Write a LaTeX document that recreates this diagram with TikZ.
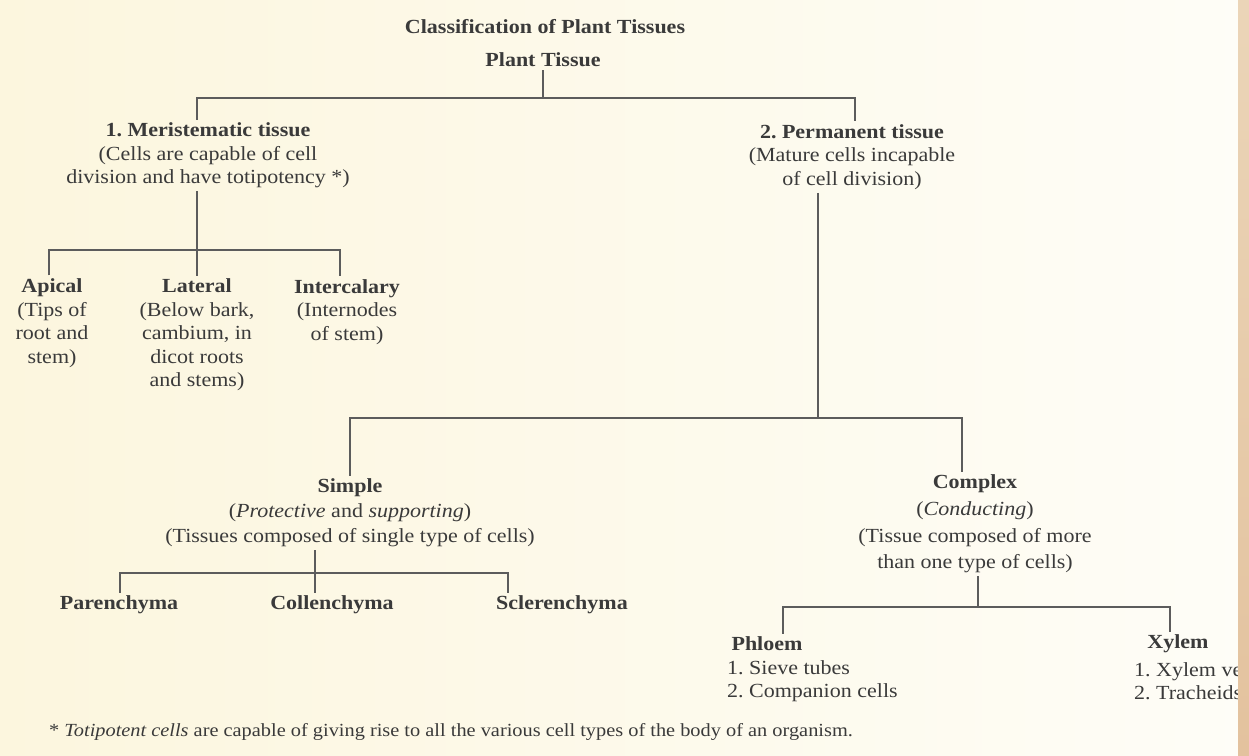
\documentclass[tikz,border=0pt]{standalone}
\usepackage{fontspec}
\setmainfont{Liberation Serif}[FakeStretch=1.1]
\frenchspacing
\definecolor{ink}{HTML}{3A3A3A}
\definecolor{linec}{HTML}{5C5C5C}
\definecolor{bgL}{HTML}{FCF6DE}
\definecolor{bgM}{HTML}{FFF7D8}
\definecolor{bgR}{HTML}{FEFDF7}
\definecolor{stripT}{HTML}{EBD5B8}
\definecolor{stripB}{HTML}{E3C29E}
\begin{document}
\begin{tikzpicture}[x=1pt,y=-1pt,
  every node/.style={text=ink, inner sep=3pt},
  txt/.style={font=\fontsize{20}{23.5}\selectfont, align=center},
  txtw/.style={font=\fontsize{20}{25}\selectfont, align=center},
  txtc/.style={font=\fontsize{20}{26.7}\selectfont, align=center},
  hd/.style={font=\bfseries\fontsize{20}{23.5}\selectfont},
  lst/.style={font=\fontsize{20}{23}\selectfont, align=left, anchor=west},
  conn/.style={draw=linec, line width=1.6pt}]
% background
\useasboundingbox (0,0) rectangle (1249,755);
\shade[left color=bgL, middle color=bgM, right color=bgR] (0,0) rectangle (1249,755);
% title
\node[hd] (title) at (545,27) {Classification of Plant Tissues};
\node[hd] (plant) at (543,60) {Plant Tissue};
% level 1
\node[txt] (meri) at (208,155.5) {\textbf{1. Meristematic tissue}\\(Cells are capable of cell\\division and have totipotency *)};
\node[txt] (perm) at (852,157) {\textbf{2. Permanent tissue}\\(Mature cells incapable\\of cell division)};
% meristematic children
\node[txt] (api) at (52,323) {\textbf{Apical}\\(Tips of\\root and\\stem)};
\node[txt] (lat) at (197,335) {\textbf{Lateral}\\(Below bark,\\cambium, in\\dicot roots\\and stems)};
\node[txt] (inter) at (347,312) {\textbf{Intercalary}\\(Internodes\\of stem)};
% permanent children
\node[txtw] (simple) at (350,513) {\textbf{Simple}\\(\textit{Protective} and \textit{supporting})\\(Tissues composed of single type of cells)};
\node[txtc] (complex) at (975,524) {\textbf{Complex}\\(\textit{Conducting})\\(Tissue composed of more\\than one type of cells)};
% simple children
\node[hd] (paren) at (119,605) {Parenchyma};
\node[hd] (coll) at (332,605) {Collenchyma};
\node[hd] (scler) at (562,605) {Sclerenchyma};
% complex children
\node[hd] (phloem) at (767,644) {Phloem};
\node[lst] (phlist) at (724,681) {1. Sieve tubes\\2. Companion cells};
\node[hd] (xylem) at (1178,644) {Xylem};
\node[lst] (xylist) at (1131,681) {1. Xylem vessels\\2. Tracheids};
% footnote
\node[font=\fontsize{18.5}{21}\selectfont, anchor=west] (foot) at (46,732) {* \textit{Totipotent cells} are capable of giving rise to all the various cell types of the body of an organism.};
% connector levels
\coordinate (b1L) at (197,98);
\coordinate (b1R) at (855,98);
\coordinate (b2L) at (49,250);
\coordinate (b2R) at (340,250);
\coordinate (b3L) at (350,418);
\coordinate (b3R) at (962,418);
\coordinate (b4L) at (120,573);
\coordinate (b4M) at (315,573);
\coordinate (b4R) at (508,573);
\coordinate (b5L) at (783,607);
\coordinate (b5M) at (978,607);
\coordinate (b5R) at (1170,607);
\coordinate (pv) at (818,418);
% connectors
\draw[conn] (plant.south) -- (plant.south |- b1L);
\draw[conn] (meri.north -| b1L) -- (b1L) -- (b1R) -- (perm.north -| b1R);
\draw[conn] (meri.south -| b1L) -- (lat.north -| b1L);
\draw[conn] (api.north -| b2L) -- (b2L) -- (b2R) -- (inter.north -| b2R);
\draw[conn] (perm.south -| pv) -- (pv);
\draw[conn] (simple.north -| b3L) -- (b3L) -- (b3R) -- (complex.north -| b3R);
\draw[conn] (simple.south -| b4M) -- (coll.north -| b4M);
\draw[conn] (paren.north -| b4L) -- (b4L) -- (b4R) -- (scler.north -| b4R);
\draw[conn] (complex.south -| b5M) -- (b5M);
\draw[conn] (phloem.north -| b5L) -- (b5L) -- (b5R) -- (xylem.north -| b5R);
% page edge strip
\shade[top color=stripT, bottom color=stripB] (1238,0) rectangle (1249,755);
\end{tikzpicture}
\end{document}
